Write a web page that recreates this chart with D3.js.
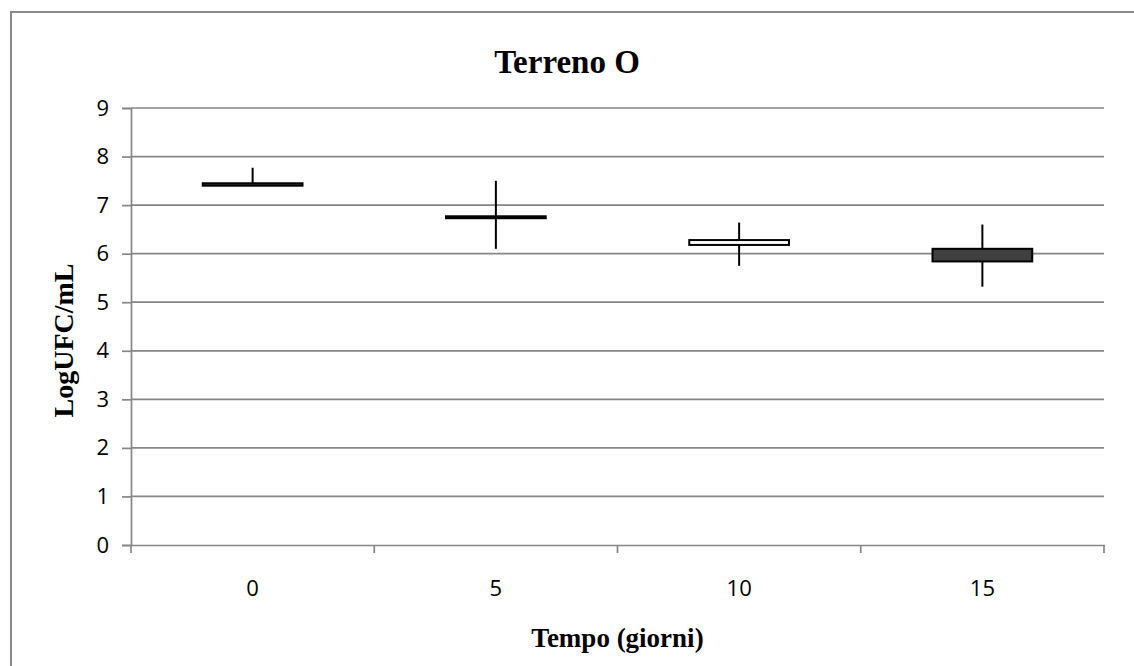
<!DOCTYPE html>
<html>
<head>
<meta charset="utf-8">
<script src="https://cdn.jsdelivr.net/npm/d3@7"></script>
<style>
  html, body { margin: 0; padding: 0; background: #fff; }
  svg { display: block; }
  .title { font-family: "Liberation Serif", "DejaVu Serif", serif; font-weight: bold; fill: #000; }
</style>
</head>
<body>
<svg id="chart" width="1134" height="666"></svg>
<script>
// Days of sampling (categories)
const days = ['0', '5', '10', '15'];
// High-low / open-close values, LogUFC/mL
const highs  = [7.77, 7.50, 6.64, 6.60];
const lows   = [7.40, 6.10, 5.75, 5.32];
const opens  = [7.45, 6.77, 6.18, 6.10];
const closes = [7.40, 6.73, 6.28, 5.84];
const yTicks = [0, 1, 2, 3, 4, 5, 6, 7, 8, 9];

const svg = d3.select('#chart');
const margin = { top: 108, right: 30, bottom: 121, left: 131 };
const width = 1134 - margin.left - margin.right;
const height = 666 - margin.top - margin.bottom;

// outer chart frame (only left and top edges visible in the crop)
svg.append('rect')
  .attr('x', 11).attr('y', 12)
  .attr('width', 1140).attr('height', 680)
  .attr('fill', 'none')
  .attr('stroke', '#8a8a8a')
  .attr('stroke-width', 2);

const g = svg.append('g').attr('transform', `translate(${margin.left},${margin.top})`);

const x = d3.scaleBand().domain(days).range([0, width]).padding(0);
const y = d3.scaleLinear().domain([0, 9]).range([height, 0]);

// grid lines
g.append('g')
  .selectAll('line')
  .data(yTicks.filter(d => d > 0))
  .join('line')
  .attr('x1', 0).attr('x2', width)
  .attr('y1', d => y(d)).attr('y2', d => y(d))
  .attr('stroke', '#868686')
  .attr('stroke-width', 1.7);

// y axis
const yAxis = g.append('g')
  .call(d3.axisLeft(y).tickValues(yTicks).tickSize(9).tickPadding(13).tickFormat(d3.format('d')));
yAxis.select('.domain').attr('stroke', '#868686').attr('stroke-width', 1.7);
yAxis.selectAll('.tick line').attr('stroke', '#868686').attr('stroke-width', 1.7);

// x axis: ticks at category boundaries
const xAxis = g.append('g')
  .attr('transform', `translate(0,${height})`)
  .call(d3.axisBottom(x).tickSize(0).tickPadding(43));
xAxis.select('.domain').attr('stroke', '#868686').attr('stroke-width', 1.7);
xAxis.selectAll('.tick text').attr('dy', '0.35em');

[yAxis, xAxis].forEach(a => a.selectAll('.tick text')
  .attr('font-family', '"Open Sans", "Noto Sans", sans-serif')
  .attr('font-size', 22)
  .attr('fill', '#000'));

const boundaries = days.map(d => x(d)).concat([width]);
g.append('g')
  .selectAll('line')
  .data(boundaries)
  .join('line')
  .attr('x1', d => d).attr('x2', d => d)
  .attr('y1', height).attr('y2', height + 8)
  .attr('stroke', '#868686')
  .attr('stroke-width', 1.7);

// high-low lines
const barW = x.bandwidth() * 0.41;
const series = days.map((d, i) => ({ day: d, high: highs[i], low: lows[i], open: opens[i], close: closes[i] }));

g.append('g')
  .selectAll('line')
  .data(series)
  .join('line')
  .attr('x1', d => x(d.day) + x.bandwidth() / 2)
  .attr('x2', d => x(d.day) + x.bandwidth() / 2)
  .attr('y1', d => y(d.high))
  .attr('y2', d => y(d.low))
  .attr('stroke', '#000')
  .attr('stroke-width', 2);

// up/down bars
g.append('g')
  .selectAll('rect')
  .data(series)
  .join('rect')
  .attr('x', d => x(d.day) + x.bandwidth() / 2 - barW / 2)
  .attr('y', d => y(Math.max(d.open, d.close)))
  .attr('width', barW)
  .attr('height', d => Math.abs(y(d.open) - y(d.close)))
  .attr('fill', d => d.close >= d.open ? '#ffffff' : '#404040')
  .attr('stroke', '#000')
  .attr('stroke-width', 2);

// titles
svg.append('text')
  .attr('class', 'title')
  .attr('x', 567).attr('y', 73)
  .attr('text-anchor', 'middle')
  .style('font-size', '33px')
  .text('Terreno O');

svg.append('text')
  .attr('class', 'title')
  .attr('x', margin.left + width / 2).attr('y', 647)
  .attr('text-anchor', 'middle')
  .style('font-size', '27px')
  .text('Tempo (giorni)');

svg.append('text')
  .attr('class', 'title')
  .attr('transform', `translate(73,${margin.top + height / 2 + 14}) rotate(-90)`)
  .attr('text-anchor', 'middle')
  .style('font-size', '28px')
  .text('LogUFC/mL');
</script>
</body>
</html>
